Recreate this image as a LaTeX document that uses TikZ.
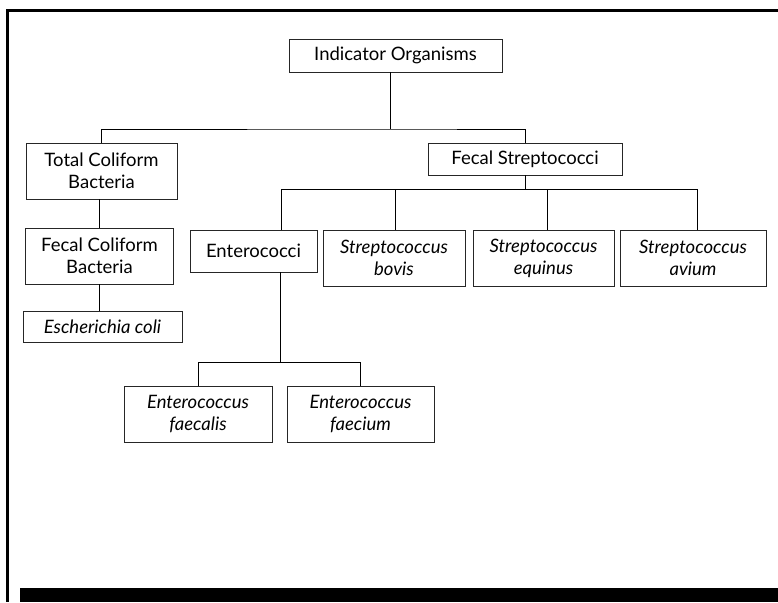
\documentclass[tikz,border=0pt]{standalone}
\usepackage{fontspec}
\setmainfont{Lato}
\begin{document}
\begin{tikzpicture}[x=1pt,y=-1pt,
  box/.style={draw=black!85,line width=0.8pt,align=center,inner sep=0pt,
    font=\fontsize{18.5}{22}\selectfont},
  conn/.style={draw=black,line width=0.8pt},
  frame/.style={draw=black,line width=3pt}]
\useasboundingbox (0,0) rectangle (778,602);
% frame
\draw[frame] (780,10.5) -- (7.5,10.5) -- (7.5,590);
\fill[black] (6,588) rectangle (778,602);
\fill[white] (9,586.5) rectangle (20,602);
\fill[black] (6,586.5) rectangle (9,592);
% nodes
\node[box,minimum width=213,minimum height=33] (top) at (395.5,55.5) {Indicator Organisms};
\node[box,minimum width=151,minimum height=56] (tc) at (101.5,171) {Total Coliform\\Bacteria};
\node[box,minimum width=194,minimum height=32] (fs) at (525,159) {Fecal Streptococci};
\node[box,minimum width=148,minimum height=56] (fc) at (99.5,256) {Fecal Coliform\\Bacteria};
\node[box,minimum width=159,minimum height=31] (ec) at (102.5,326.5) {\itshape Escherichia coli};
\node[box,minimum width=127,minimum height=42] (ent) at (253.5,251) {Enterococci};
\node[box,minimum width=142,minimum height=56] (bov) at (394,258) {\itshape Streptococcus\\\itshape bovis};
\node[box,minimum width=141,minimum height=56] (equ) at (543.5,258) {\itshape Streptococcus\\\itshape equinus};
\node[box,minimum width=146,minimum height=56] (avi) at (693,258) {\itshape Streptococcus\\\itshape avium};
\node[box,minimum width=148,minimum height=56] (fae) at (198,414) {\itshape Enterococcus\\\itshape faecalis};
\node[box,minimum width=147,minimum height=56] (fcm) at (360.5,414) {\itshape Enterococcus\\\itshape faecium};
% junctions
\coordinate (j1) at (390,129);
\coordinate (j2) at (525,189);
\coordinate (j3) at (280,362);
% connectors
\draw[conn] (top.south -| j1) -- (j1);
\draw[conn] (tc.north) |- (j1) -| (fs.north);
\draw[conn] (tc.south -| 99,0) -- (fc.north -| 99,0);
\draw[conn] (fc.south -| 99,0) -- (ec.north -| 99,0);
\draw[conn] (fs.south) -- (j2);
\draw[conn] (j2) -| (ent.north -| 281,0);
\draw[conn] (j2) -| (avi.north -| 697,0);
\draw[conn] (j2 -| 395,0) -- (bov.north -| 395,0);
\draw[conn] (j2 -| 547,0) -- (equ.north -| 547,0);
\draw[conn] (ent.south -| j3) -- (j3);
\draw[conn] (j3) -| (fae.north);
\draw[conn] (j3) -| (fcm.north);
\end{tikzpicture}
\end{document}
